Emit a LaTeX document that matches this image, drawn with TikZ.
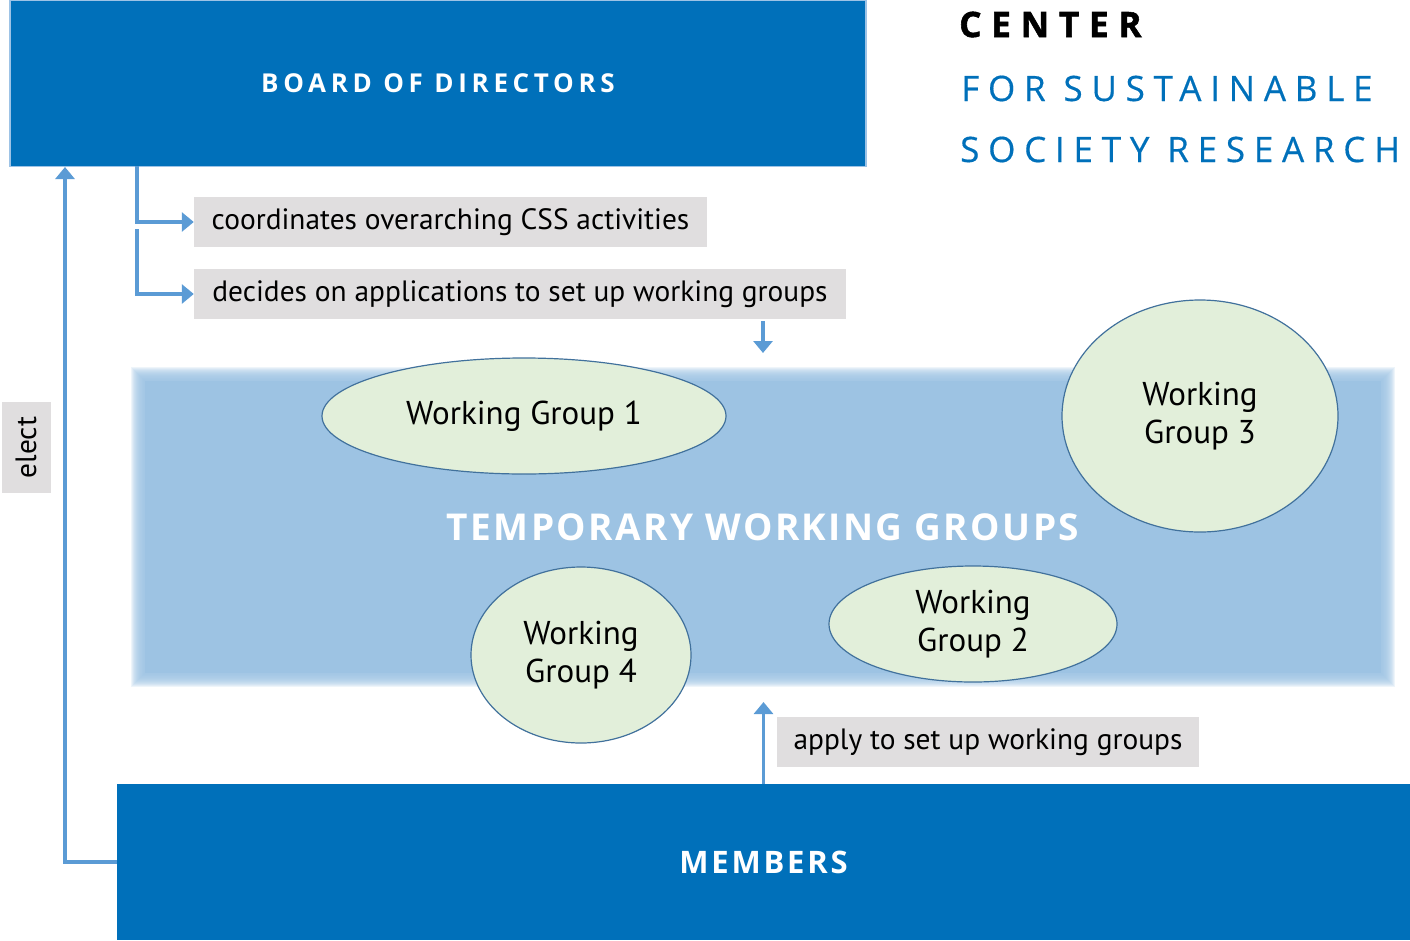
\documentclass[tikz,border=0pt]{standalone}
\usepackage{fontspec}
\setmainfont{PT Sans}
\newfontfamily\headfont{Open Sans}
\usetikzlibrary{shapes.geometric,arrows.meta}
\definecolor{uhhblue}{RGB}{0,112,186}
\definecolor{boardline}{RGB}{157,195,230}
\definecolor{bandblue}{RGB}{157,195,227}
\definecolor{arrowblue}{RGB}{91,155,213}
\definecolor{notegray}{RGB}{224,222,223}
\definecolor{groupfill}{RGB}{226,239,218}
\definecolor{groupline}{RGB}{65,113,156}
\tikzset{
  board/.style = {fill = uhhblue, inner sep = 0pt, text = white},
  note/.style = {fill = notegray, inner sep = 0pt, minimum height = 50pt, font = \fontsize{29.4}{33}\selectfont},
  group/.style = {ellipse, draw = groupline, fill = groupfill, line width = 1.2pt, inner sep = 0pt, align = center, font = \fontsize{33}{38}\selectfont},
  link/.style = {draw = arrowblue, line width = 3.5pt, -{Triangle[width = 19pt, length = 12pt]}}
}
\begin{document}
\begin{tikzpicture}[x = 1pt, y = -1pt]
\useasboundingbox (0,0) rectangle (1410,940);
% Title
\node[anchor = base west, inner sep = 0pt, font = \headfont\bfseries\fontsize{35}{36}\selectfont\addfontfeatures{LetterSpace = 28, FakeBold = 1.6}] (center) at (959,37) {CENTER};
\node[anchor = base west, inner sep = 0pt, text = uhhblue, font = \headfont\fontsize{35}{36}\selectfont\addfontfeatures{LetterSpace = 25, FakeBold = 0.4}] (sustain) at (961,101) {FOR SUSTAINABLE};
\node[anchor = base west, inner sep = 0pt, text = uhhblue, font = \headfont\fontsize{35}{36}\selectfont\addfontfeatures{LetterSpace = 25, FakeBold = 0.4}] (society) at (960,162) {SOCIETY RESEARCH};
% Temporary band, blurred edges
\foreach \i in {1,...,14}
  \fill[bandblue, opacity = 0.17] (145-\i,381-\i) rectangle (1381+\i,673+\i);
\fill[bandblue] (145,381) rectangle (1381,673);
\node[inner sep = 0pt, text = white, font = \headfont\bfseries\fontsize{37}{40}\selectfont\addfontfeatures{LetterSpace = 6.5}] (temp) at (763,527) {TEMPORARY WORKING GROUPS};
% Working groups
\node[group, minimum width = 404pt, minimum height = 116pt] (wg1) at (524,416) {Working Group 1};
\node[group, minimum width = 276pt, minimum height = 232pt] (wg3) at (1200,416) {Working\\Group 3};
\node[group, minimum width = 220pt, minimum height = 176pt] (wg4) at (581,655) {Working\\Group 4};
\node[group, minimum width = 288pt, minimum height = 116pt] (wg2) at (973,624) {Working\\Group 2};
% Board and members
\node[board, draw = boardline, line width = 1.5pt, minimum width = 856pt, minimum height = 166pt, font = \headfont\bfseries\fontsize{26}{28}\selectfont\addfontfeatures{LetterSpace = 18}] (board) at (438,83.5) {BOARD OF DIRECTORS};
\node[board, minimum width = 1293pt, minimum height = 156pt, font = \headfont\bfseries\fontsize{31}{34}\selectfont\addfontfeatures{LetterSpace = 9}] (members) at (763.5,862) {MEMBERS};
% Notes
\node[note, minimum width = 513pt] (coord) at (450.5,222) {coordinates overarching CSS activities};
\node[note, minimum width = 652pt] (decide) at (520,294) {decides on applications to set up working groups};
\node[note, minimum width = 422pt] (apply) at (988,742) {apply to set up working groups};
\node[note, rotate = 90, minimum width = 91pt, minimum height = 49pt] (elect) at (26,447.5) {elect};
% Arrows
\coordinate (fork1) at (137,166);
\coordinate (fork2) at (137,229);
\coordinate (down1) at (763,321);
\coordinate (down2) at (763,353);
\coordinate (applytip) at (763.5,702);
\coordinate (electtip) at (65,167);
\draw[link] (fork1) |- (coord.west);
\draw[link] (fork2) |- (decide.west);
\draw[link] (down1) -- (down2);
\draw[link] (members.north) -- (applytip);
\draw[link] (members.west) -| (electtip);
\end{tikzpicture}
\end{document}
